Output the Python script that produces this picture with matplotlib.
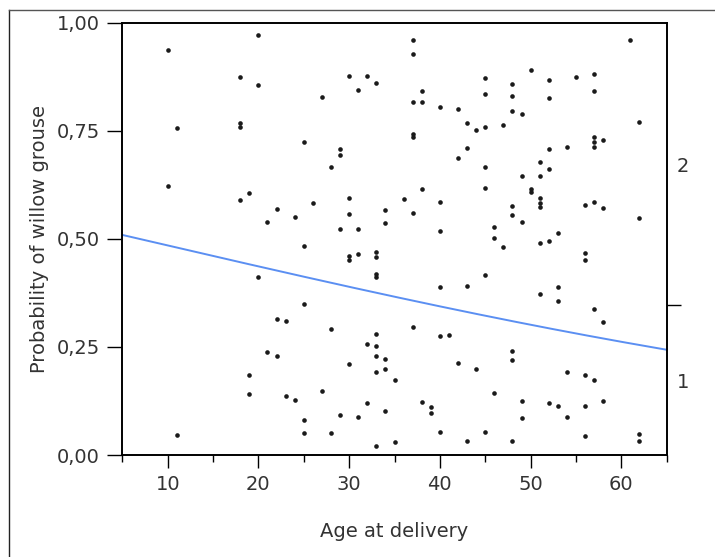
import numpy as np
import matplotlib
matplotlib.use('Agg')
import matplotlib.pyplot as plt
from matplotlib.lines import Line2D
from matplotlib.ticker import FuncFormatter, FixedLocator

# age of each observation, grouped by age
age = [10, 10,
       11, 11,
       18, 18, 18, 18,
       19, 19, 19,
       20, 20, 20,
       21, 21,
       22, 22, 22,
       23, 23,
       24, 24,
       25, 25, 25, 25, 25,
       26,
       27, 27,
       28, 28, 28,
       29, 29, 29, 29,
       30, 30, 30, 30, 30, 30,
       31, 31, 31, 31,
       32, 32, 32,
       33, 33, 33, 33, 33, 33, 33, 33, 33, 33,
       34, 34, 34, 34, 34,
       35, 35,
       36,
       37, 37, 37, 37, 37, 37, 37,
       38, 38, 38, 38,
       39, 39,
       40, 40, 40, 40, 40, 40,
       41,
       42, 42, 42,
       43, 43, 43, 43,
       44, 44,
       45, 45, 45, 45, 45, 45, 45,
       46, 46, 46,
       47, 47,
       48, 48, 48, 48, 48, 48, 48, 48,
       49, 49, 49, 49, 49,
       50, 50, 50,
       51, 51, 51, 51, 51, 51, 51,
       52, 52, 52, 52, 52, 52,
       53, 53, 53, 53,
       54, 54, 54,
       55,
       56, 56, 56, 56, 56, 56,
       57, 57, 57, 57, 57, 57, 57, 57,
       58, 58, 58, 58,
       61,
       62, 62, 62, 62]

# vertical (jittered) position of each point, same order as age
ypos = [0.938, 0.623,
        0.756, 0.046,
        0.874, 0.767, 0.759, 0.591,
        0.607, 0.184, 0.142,
        0.972, 0.856, 0.411,
        0.540, 0.238,
        0.568, 0.315, 0.230,
        0.309, 0.136,
        0.551, 0.127,
        0.724, 0.483, 0.350, 0.081, 0.051,
        0.583,
        0.829, 0.147,
        0.666, 0.292, 0.051,
        0.707, 0.695, 0.523, 0.092,
        0.876, 0.595, 0.557, 0.461, 0.451, 0.210,
        0.844, 0.523, 0.465, 0.089,
        0.877, 0.257, 0.120,
        0.861, 0.469, 0.459, 0.418, 0.412, 0.281, 0.253, 0.229, 0.193, 0.022,
        0.567, 0.537, 0.221, 0.200, 0.102,
        0.173, 0.029,
        0.592,
        0.961, 0.928, 0.816, 0.742, 0.736, 0.560, 0.296,
        0.843, 0.816, 0.615, 0.122,
        0.112, 0.098,
        0.806, 0.585, 0.518, 0.389, 0.275, 0.053,
        0.277,
        0.801, 0.687, 0.213,
        0.769, 0.711, 0.390, 0.032,
        0.751, 0.198,
        0.872, 0.836, 0.758, 0.666, 0.618, 0.417, 0.053,
        0.527, 0.503, 0.144,
        0.763, 0.482,
        0.858, 0.830, 0.796, 0.577, 0.556, 0.240, 0.219, 0.032,
        0.790, 0.645, 0.540, 0.125, 0.086,
        0.890, 0.615, 0.609,
        0.677, 0.645, 0.594, 0.584, 0.574, 0.491, 0.372,
        0.867, 0.827, 0.707, 0.662, 0.494, 0.120,
        0.513, 0.388, 0.357, 0.114,
        0.712, 0.193, 0.089,
        0.874,
        0.579, 0.467, 0.450, 0.184, 0.113, 0.044,
        0.882, 0.841, 0.736, 0.724, 0.712, 0.585, 0.338, 0.173,
        0.729, 0.571, 0.308, 0.124,
        0.959,
        0.770, 0.548, 0.049, 0.032]

# fitted logistic model (logit = b0 + b1 * age)
b0 = 0.134
b1 = -0.0195
# overall share of response level 1 (boundary on the right axis)
level_split = 0.346
levels = ['1', '2']

yticks = [0.0, 0.25, 0.5, 0.75, 1.0]
xticks = [10, 20, 30, 40, 50, 60]

fig = plt.figure(figsize=(7.15, 5.57), dpi=100)
ax = fig.add_axes([0.1711, 0.1831, 0.7613, 0.7761])

ax.scatter(age, ypos, s=11, marker='o', color='#1a1a1a', linewidths=0, zorder=3)

xs = np.linspace(5, 65, 200)
ax.plot(xs, 1 / (1 + np.exp(-(b0 + b1 * xs))), color='#5b8ff2', lw=1.4, zorder=2)

ax.set_xlim(5, 65)
ax.set_ylim(0, 1)
for s in ax.spines.values():
    s.set_linewidth(1.2)
ax.set_xticks(xticks)
ax.set_xticks(np.arange(5, 66, 10), minor=True)
ax.set_yticks(yticks)
ax.yaxis.set_major_formatter(FuncFormatter(lambda v, p: f'{v:.2f}'.replace('.', ',')))
ax.tick_params(axis='x', which='major', length=9.5, width=1, labelsize=14, pad=5, labelcolor='#333333')
ax.tick_params(axis='x', which='minor', length=5, width=1)
ax.tick_params(axis='y', which='major', length=11, width=1, labelsize=14, pad=5, labelcolor='#333333')
ax.set_xlabel('Age at delivery', fontsize=14, labelpad=20, color='#333333')
ax.set_ylabel('Probability of willow grouse', fontsize=14, labelpad=6, color='#333333')

# right axis with the response levels
ax2 = ax.twinx()
ax2.set_ylim(0, 1)
ax2.yaxis.set_major_locator(FixedLocator([level_split]))
ax2.yaxis.set_major_formatter(FuncFormatter(lambda v, p: ''))
ax2.yaxis.set_minor_locator(FixedLocator([level_split / 2, (level_split + 1) / 2]))
ax2.set_yticklabels(levels, minor=True)
ax2.tick_params(axis='y', which='major', length=10, width=1)
ax2.tick_params(axis='y', which='minor', length=0, labelsize=14, pad=7, labelcolor='#333333')
for s in ax2.spines.values():
    s.set_linewidth(1.2)

# outer frame (left and top edges)
fig.add_artist(Line2D([9 / 715, 9 / 715], [0, 1 - 10 / 557], transform=fig.transFigure,
                      color='#222222', lw=1))
fig.add_artist(Line2D([9 / 715, 1], [1 - 10 / 557, 1 - 10 / 557], transform=fig.transFigure,
                      color='#555555', lw=1))

fig.savefig('out.png', dpi=100)
